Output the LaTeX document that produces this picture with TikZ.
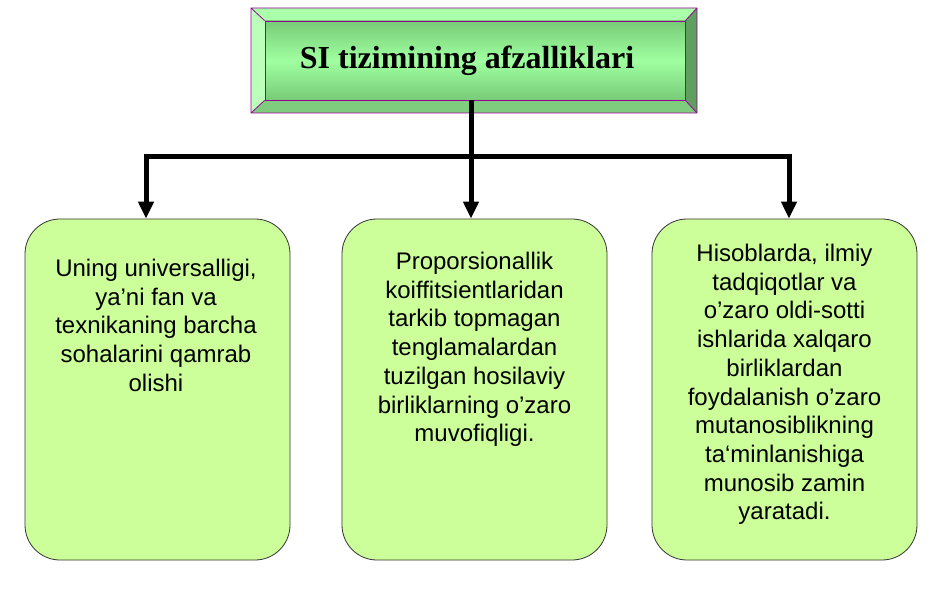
\documentclass[tikz,border=0pt]{standalone}
\usepackage{fontspec}
\setmainfont{Liberation Serif}
\newfontfamily\arialf{Liberation Sans}
\usetikzlibrary{arrows.meta}
\definecolor{boxfill}{HTML}{CCFF99}
\definecolor{bevtop}{HTML}{AAFFAA}
\definecolor{bevleft}{HTML}{BBFFBB}
\definecolor{bevright}{HTML}{5F9F5F}
\definecolor{bevbot}{HTML}{7FCC7F}
\definecolor{innerA}{HTML}{77CC77}
\definecolor{innerB}{HTML}{A0FFA0}
\definecolor{purp}{HTML}{990099}
\tikzset{
  box/.style={draw=black!80, line width=0.8pt, fill=boxfill, rounded corners=35pt,
    minimum width=265pt, minimum height=341pt, inner sep=0pt},
  txt/.style={font=\arialf\fontsize{24}{28.7}\selectfont, align=center, inner sep=0pt, anchor=north},
  conn/.style={line width=5pt},
  arr/.style={line width=5pt, -{Triangle[width=15pt,length=17pt]}},
}
\begin{document}
\begin{tikzpicture}[x=1pt,y=-1pt]
\useasboundingbox (0,0) rectangle (947,593);
% bevelled title frame
\fill[bevtop] (251,8) -- (697,8) -- (685,21) -- (265,21) -- cycle;
\fill[bevleft] (251,8) -- (265,21) -- (265,100) -- (251,113) -- cycle;
\fill[bevright] (697,8) -- (697,113) -- (685,100) -- (685,21) -- cycle;
\fill[bevbot] (251,113) -- (697,113) -- (685,100) -- (265,100) -- cycle;
\node[minimum width=420pt, minimum height=79pt, inner sep=0pt,
      top color=innerA, bottom color=innerA, middle color=innerB,
      draw=purp, line width=0.8pt,
      font=\bfseries\fontsize{32}{38}\selectfont] (title) at (475,60.5) {SI tizimining afzalliklari\kern16pt};
\draw[purp, line width=0.8pt] (251,8) rectangle (697,113)
  (251,8) -- (title.north west) (697,8) -- (title.north east)
  (251,113) -- (title.south west) (697,113) -- (title.south east);
% boxes
\node[box] (b1) at (157.5,389.5) {};
\node[box] (b2) at (474.5,389.5) {};
\node[box] (b3) at (784.5,389.5) {};
\node[txt] (t1) at (156,259) {Uning universalligi,\\ya’ni fan va\\texnikaning barcha\\sohalarini qamrab\\olishi};
\node[txt] (t2) at (474.5,252) {Proporsionallik\\koiffitsientlaridan\\tarkib topmagan\\tenglamalardan\\tuzilgan hosilaviy\\birliklarning o’zaro\\muvofiqligi.};
\node[txt] (t3) at (784.5,244) {Hisoblarda, ilmiy\\tadqiqotlar va\\o’zaro oldi-sotti\\ishlarida xalqaro\\birliklardan\\foydalanish o’zaro\\mutanosiblikning\\ta‘minlanishiga\\munosib zamin\\yaratadi.};
% connectors
\coordinate (j) at (471,157);
\coordinate (c1) at (146,157);
\coordinate (c3) at (789,157);
\draw[arr] (title.south -| j) -- (j) -| (b1.north -| c1);
\draw[arr] (title.south -| j) -- (b2.north -| j);
\draw[arr] (j) -| (b3.north -| c3);
\end{tikzpicture}
\end{document}
